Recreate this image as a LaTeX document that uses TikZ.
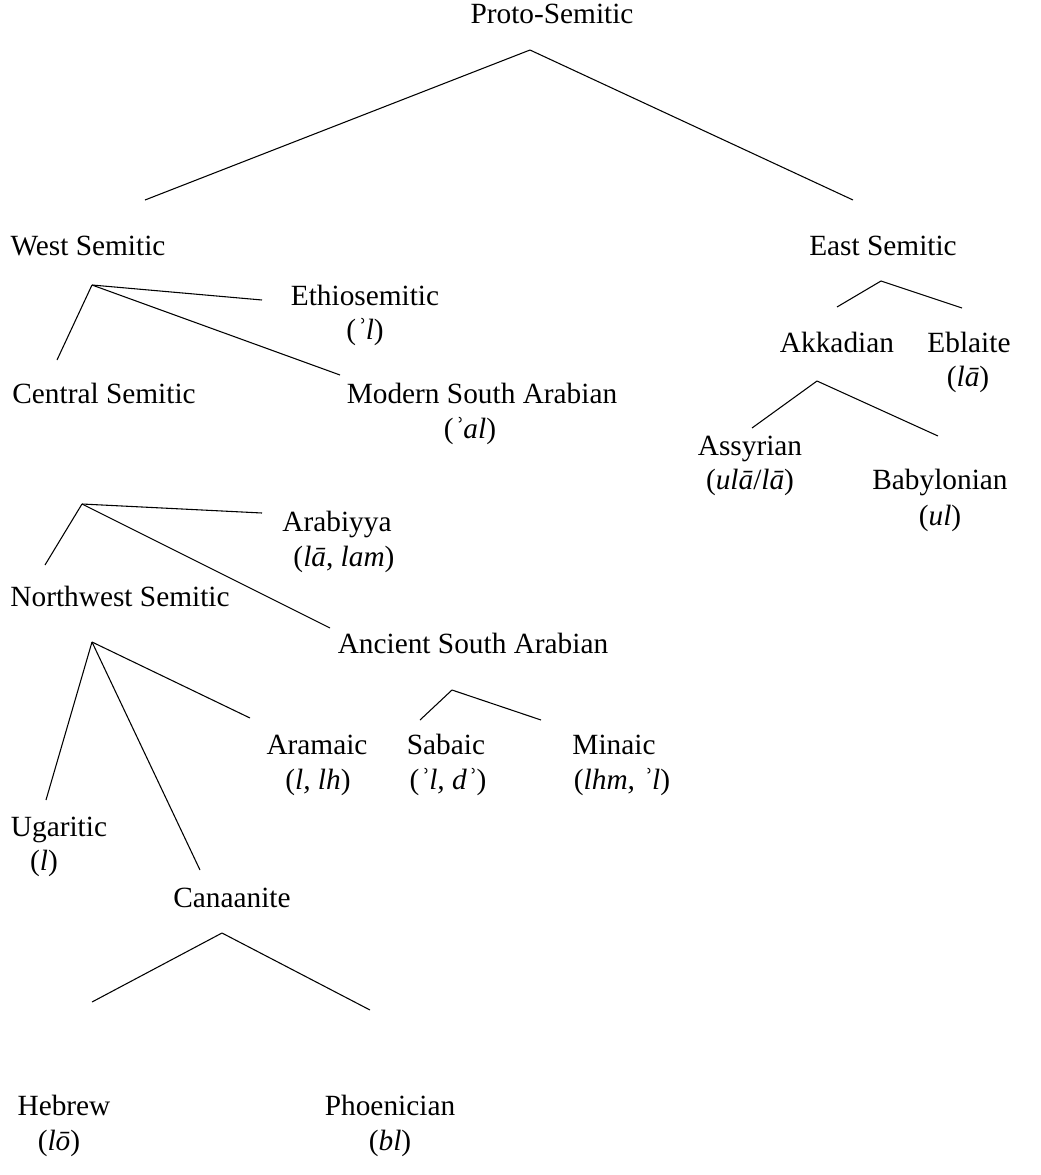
\documentclass[tikz,border=0pt]{standalone}
\usepackage{fontspec}
\setmainfont{Liberation Serif}

\begin{document}
\begin{tikzpicture}[x=0.75pt,y=-0.75pt,
		lang/.style={inner sep=0pt,anchor=mid,font=\fontsize{22}{26}\selectfont},
		branch/.style={line width=0.8pt}]
		\useasboundingbox (0,0) rectangle (1041,1175);

		% languages and their forms
		\node[lang] (proto) 		at (552,20) {Proto-Semitic};
		\node[lang] (west) 		at (88,252) {West Semitic};
		\node[lang] (east) 		at (883,252) {East Semitic};
		\node[lang] (ethio) 		at (365,302) {Ethiosemitic};
		\node[lang] (ethio form) 	at (365,336) {(\textit{ʾl})};
		\node[lang] (central) 		at (104,400) {Central Semitic};
		\node[lang] (msa) 		at (482,400) {Modern South Arabian};
		\node[lang] (msa form) 	at (470,435) {(\textit{ʾal})};
		\node[lang] (akkad) 		at (837,349) {Akkadian};
		\node[lang] (ebla) 		at (969,349) {Eblaite};
		\node[lang] (ebla form) 	at (968,383) {(\textit{lā})};
		\node[lang] (assyr) 		at (750,452) {Assyrian};
		\node[lang] (assyr form) 	at (750,486) {(\textit{ulā}/\textit{lā})};
		\node[lang] (babyl) 		at (940,486) {Babylonian};
		\node[lang] (babyl form) 	at (940,522) {(\textit{ul})};
		\node[lang] (arab) 		at (337,528) {Arabiyya};
		\node[lang] (arab form) 	at (344,563) {(\textit{lā}, \textit{lam})};
		\node[lang] (northwest) 	at (120,603) {Northwest Semitic};
		\node[lang] (asa) 		at (473,650) {Ancient South Arabian};
		\node[lang] (saba) 		at (446,751) {Sabaic};
		\node[lang] (saba form) 	at (448,786) {(\textit{ʾl, dʾ})};
		\node[lang] (mina) 		at (614,751) {Minaic};
		\node[lang] (mina form) 	at (622,786) {(\textit{lhm, ʾl})};
		\node[lang] (aram) 		at (317,751) {Aramaic};
		\node[lang] (aram form) 	at (318,786) {(\textit{l, lh})};
		\node[lang] (ugar) 		at (59,833) {Ugaritic};
		\node[lang] (ugar form) 	at (44,867) {(\textit{l})};
		\node[lang] (canaan) 		at (232,904) {Canaanite};
		\node[lang] (hebrew) 		at (64,1112) {Hebrew};
		\node[lang] (hebrew form) 	at (59,1147) {(\textit{lō})};
		\node[lang] (phoen) 		at (390,1112) {Phoenician};
		\node[lang] (phoen form) 	at (390,1147) {(\textit{bl})};

		% branch points and line ends
		\coordinate (proto apex) 	at (530,50);
		\coordinate (west end) 	at (145,200);
		\coordinate (east end) 	at (853,200);
		\coordinate (west apex) 	at (92,285);
		\coordinate (central end) 	at (57,360);
		\coordinate (ethio end) 	at (262,300);
		\coordinate (msa end) 		at (340,375);
		\coordinate (east apex) 	at (881,281);
		\coordinate (akkad end) 	at (837,307);
		\coordinate (ebla end) 	at (962,308);
		\coordinate (akkad apex) 	at (817,381);
		\coordinate (assyr end) 	at (752,428);
		\coordinate (babyl end) 	at (938,436);
		\coordinate (central apex) 	at (82,504);
		\coordinate (northwest end) 	at (45,565);
		\coordinate (arab end) 	at (262,513);
		\coordinate (asa end) 		at (330,628);
		\coordinate (northwest apex) 	at (92,642);
		\coordinate (ugar end) 	at (46,800);
		\coordinate (canaan end) 	at (200,870);
		\coordinate (aram end) 	at (250,718);
		\coordinate (asa apex) 	at (452,690);
		\coordinate (saba end) 	at (420,720);
		\coordinate (mina end) 	at (541,720);
		\coordinate (canaan apex) 	at (222,933);
		\coordinate (hebrew end) 	at (92,1002);
		\coordinate (phoen end) 	at (370,1010);

		\foreach \from/\to in {proto/west,proto/east,west/central,west/ethio,west/msa,
				east/akkad,east/ebla,akkad/assyr,akkad/babyl,central/northwest,central/arab,
				central/asa,northwest/ugar,northwest/canaan,northwest/aram,asa/saba,asa/mina,
				canaan/hebrew,canaan/phoen}
		{
				\draw[branch] (\from\space apex) -- (\to\space end);
		}
\end{tikzpicture}
\end{document}
